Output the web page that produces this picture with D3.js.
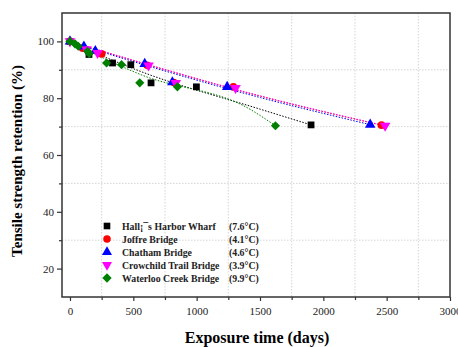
<!DOCTYPE html>
<html>
<head>
<meta charset="utf-8">
<script src="https://cdn.jsdelivr.net/npm/d3@7"></script>
<style>
    body { margin: 0; background: #fff; }
    svg { display: block; font-family: "Liberation Serif", "DejaVu Serif", serif; }
    .grid line { stroke: #ccc; stroke-width: 0.8; stroke-dasharray: 1.5, 1.5; }
</style>
</head>
<body>
<svg id="chart" width="458" height="347"></svg>
<script>
// Measured points, [days, retention %]
const hallsHarbor = [[0, 100], [150, 95.4], [336, 92.4], [480, 91.8], [640, 85.4], [998, 84], [1903, 70.6]];
const joffre = [[0, 100], [100, 97.6], [250, 95.6], [610, 91.6], [820, 85.5], [1290, 84], [2459, 70.5]];
const chatham = [[0, 100], [110, 98.2], [200, 96.6], [590, 92.1], [808, 85.6], [1241, 84], [2370, 70.7]];
const crowchild = [[0, 100], [130, 97.2], [218, 95.9], [620, 91.5], [835, 85.3], [1307, 83.6], [2488, 70.3]];
const waterloo = [[0, 100], [40, 99.1], [65, 98.3], [139, 96.5], [152, 95.7], [289, 92.4], [407, 91.8], [551, 85.4], [848, 84], [1622, 70.3]];

// Fitted trend lines
const hallsHarborFit = [[0, 99.8], [559, 89.4], [1504, 76.1], [1903, 70.6]];
const joffreFit = [[0, 100], [559, 92.5], [1504, 80.7], [2459, 70.5]];
const chathamFit = [[0, 99.8], [559, 92.1], [1504, 80.2], [2370, 70.7]];
const crowchildFit = [[0, 100], [559, 92.6], [1504, 80.8], [2488, 70.3]];
const waterlooFit = [[0, 99.8], [559, 88.3], [1425, 76], [1622, 70.3]];

const seriesNames = ["Hall\u00a1\u00afs Harbor Wharf", "Joffre Bridge", "Chatham Bridge", "Crowchild Trail Bridge", "Waterloo Creek Bridge"];
const seriesTemps = ["(7.6\u00b0C)", "(4.1\u00b0C)", "(4.6\u00b0C)", "(3.9\u00b0C)", "(9.9\u00b0C)"];
const seriesColors = ["#000000", "#ff0000", "#0000ff", "#ff00ff", "#008000"];
const seriesSymbols = [d3.symbolSquare, d3.symbolCircle, d3.symbolTriangle, d3.symbolTriangle, d3.symbolSquare];
const seriesRotate = [0, 0, 0, 180, 45];

const xTicks = [0, 500, 1000, 1500, 2000, 2500, 3000];
const xMinor = [250, 750, 1250, 1750, 2250, 2750];
const yTicks = [20, 40, 60, 80, 100];
const yMinor = [30, 50, 70, 90];

const points = [hallsHarbor, joffre, chatham, crowchild, waterloo];
const fits = [hallsHarborFit, joffreFit, chathamFit, crowchildFit, waterlooFit];

const margin = {top: 13, right: 8, bottom: 50, left: 62};
const width = 458, height = 347;

const x = d3.scaleLinear().domain([-63, 3000]).range([margin.left, width - margin.right]);
const y = d3.scaleLinear().domain([10, 110]).range([height - margin.bottom, margin.top]);

const svg = d3.select("#chart");

// grid on the minor positions
const grid = svg.append("g").attr("class", "grid");
grid.selectAll(".gx").data(xMinor).enter().append("line")
    .attr("x1", d => x(d)).attr("x2", d => x(d))
    .attr("y1", y.range()[1]).attr("y2", y.range()[0]);
grid.selectAll(".gy").data(yMinor).enter().append("line")
    .attr("x1", x.range()[0]).attr("x2", x.range()[1])
    .attr("y1", d => y(d)).attr("y2", d => y(d));

// fit lines
const line = d3.line().x(d => x(d[0])).y(d => y(d[1])).curve(d3.curveMonotoneX);
fits.forEach((f, i) => {
    svg.append("path")
        .attr("d", line(f))
        .attr("fill", "none")
        .attr("stroke", seriesColors[i])
        .attr("stroke-width", 1)
        .attr("stroke-dasharray", "1.5,1.5");
});

// markers
function symbolFor(i, size) {
    return d3.symbol().type(seriesSymbols[i]).size(size)();
}
const symSizes = [46, 46, 48, 48, 42];
points.forEach((p, i) => {
    svg.append("g").selectAll("path").data(p).enter().append("path")
        .attr("d", symbolFor(i, symSizes[i]))
        .attr("fill", seriesColors[i])
        .attr("transform", d => `translate(${x(d[0])},${y(d[1])}) rotate(${seriesRotate[i]})`);
});

// axes
const axisStyle = g => {
    g.selectAll(".domain").remove();
    g.selectAll("line").attr("stroke", "#333").attr("stroke-width", 1.2);
    g.selectAll("text").attr("font-family", "Liberation Serif, serif").attr("font-size", 11).attr("fill", "#222");
};
svg.append("g")
    .attr("transform", `translate(0,${y.range()[0]})`)
    .call(d3.axisBottom(x).tickValues(xTicks).tickSize(4).tickPadding(6).tickFormat(d3.format("d")))
    .call(axisStyle);
svg.append("g")
    .attr("transform", `translate(0,${y.range()[0]})`)
    .call(d3.axisBottom(x).tickValues(xMinor).tickSize(3).tickFormat(""))
    .call(axisStyle);
svg.append("g")
    .attr("transform", `translate(${x.range()[0]},0)`)
    .call(d3.axisLeft(y).tickValues(yTicks).tickSize(5).tickPadding(3).tickFormat(d3.format("d")))
    .call(axisStyle);
svg.append("g")
    .attr("transform", `translate(${x.range()[0]},0)`)
    .call(d3.axisLeft(y).tickValues(yMinor).tickSize(3).tickFormat(""))
    .call(axisStyle);

// frame
svg.append("rect")
    .attr("x", x.range()[0]).attr("y", y.range()[1])
    .attr("width", x.range()[1] - x.range()[0])
    .attr("height", y.range()[0] - y.range()[1])
    .attr("fill", "none").attr("stroke", "#333").attr("stroke-width", 1.5);

// axis titles
svg.append("text")
    .attr("x", 257).attr("y", 343)
    .attr("text-anchor", "middle")
    .attr("font-size", 16).attr("font-weight", "bold")
    .text("Exposure time (days)");
svg.append("text")
    .attr("transform", "translate(22,161) rotate(-90)")
    .attr("text-anchor", "middle")
    .attr("font-size", 15).attr("font-weight", "bold")
    .text("Tensile strength retention (%)");

// legend
const legend = svg.append("g");
seriesNames.forEach((name, i) => {
    const ly = 226 + i * 13;
    legend.append("path")
        .attr("d", symbolFor(i, 44))
        .attr("fill", seriesColors[i])
        .attr("transform", `translate(107,${ly}) rotate(${seriesRotate[i]})`);
    legend.append("text")
        .attr("x", 122).attr("y", ly + 3.5)
        .attr("font-size", 9.8).attr("font-weight", "bold").attr("fill", "#222")
        .text(name);
    legend.append("text")
        .attr("x", 229).attr("y", ly + 3.5)
        .attr("font-size", 9.8).attr("font-weight", "bold").attr("fill", "#222")
        .text(seriesTemps[i]);
});
</script>
</body>
</html>
